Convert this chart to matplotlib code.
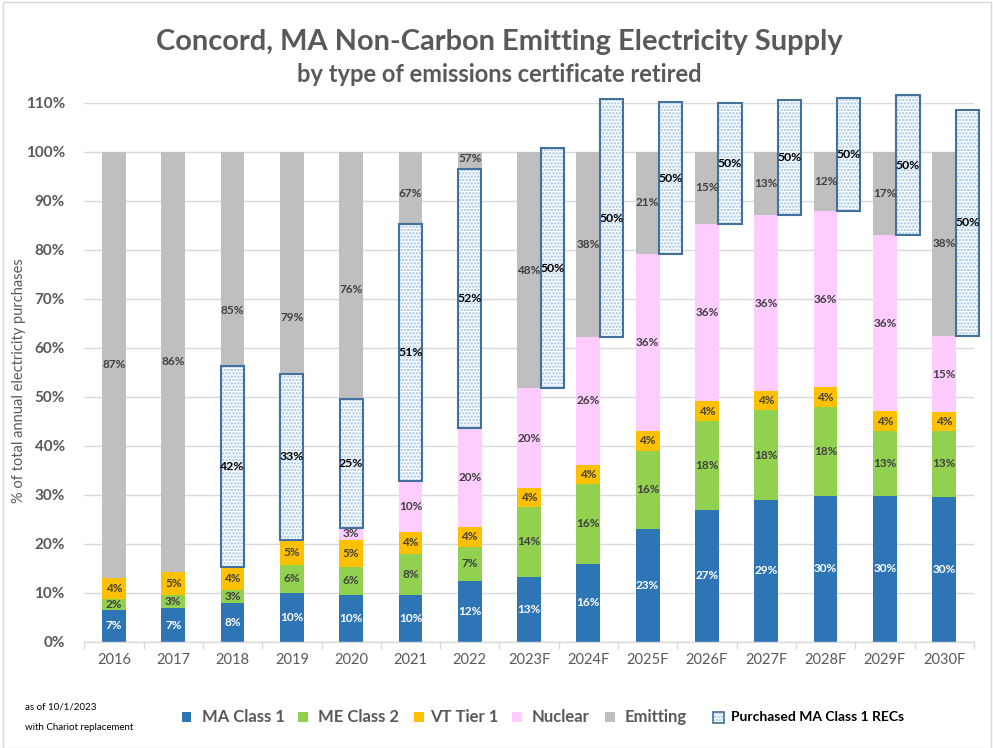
import matplotlib
matplotlib.use("Agg")
import matplotlib.pyplot as plt
import numpy as np
from matplotlib.patches import Rectangle

plt.rcParams['font.family'] = ['Lato', 'DejaVu Sans']
plt.rcParams['hatch.linewidth'] = 1.2

years = ['2016', '2017', '2018', '2019', '2020', '2021', '2022', '2023F',
         '2024F', '2025F', '2026F', '2027F', '2028F', '2029F', '2030F']

ma_class1 = [6.5, 6.8, 7.8, 9.9, 9.5, 9.5, 12.4, 13.3, 15.9, 23.0, 26.9, 28.9, 29.8, 29.8, 29.6]
me_class2 = [2.2, 2.7, 2.7, 5.8, 5.8, 8.5, 7.0, 14.1, 16.3, 16.0, 18.1, 18.3, 18.1, 13.2, 13.4]
vt_tier1 = [4.4, 4.8, 4.7, 5.1, 5.5, 4.4, 4.1, 3.9, 3.9, 4.0, 4.1, 3.9, 4.0, 4.0, 3.8]
nuclear = [0.0, 0.0, 0.0, 0.0, 2.5, 10.3, 20.2, 20.4, 26.1, 36.1, 36.1, 36.0, 36.0, 36.0, 15.6]
emitting = [86.9, 85.7, 84.8, 79.2, 76.7, 67.3, 56.3, 48.3, 37.8, 20.9, 14.8, 12.9, 12.1, 17.0, 37.6]
purchased_recs = [0.0, 0.0, 41.1, 33.8, 26.2, 52.5, 52.8, 49.0, 48.5, 31.0, 24.7, 23.4, 23.0, 28.5, 46.1]

ma_labels = [7, 7, 8, 10, 10, 10, 12, 13, 16, 23, 27, 29, 30, 30, 30]
me_labels = [2, 3, 3, 6, 6, 8, 7, 14, 16, 16, 18, 18, 18, 13, 13]
vt_labels = [4, 5, 4, 5, 5, 4, 4, 4, 4, 4, 4, 4, 4, 4, 4]
nuc_labels = [None, None, None, None, 3, 10, 20, 20, 26, 36, 36, 36, 36, 36, 15]
emit_labels = [87, 86, 85, 79, 76, 67, 57, 48, 38, 21, 15, 13, 12, 17, 38]
rec_labels = [None, None, 42, 33, 25, 51, 52, 50, 50, 50, 50, 50, 50, 50, 50]

# manual label anchor positions for emitting labels where REC box overlays
emit_label_override = {'2018': 67.5, '2019': 66.1, '2020': 71.8, '2021': 91.5, '2022': 98.7}

colors = {
    'MA Class 1': '#2E75B6',
    'ME Class 2': '#92D050',
    'VT Tier 1': '#FFC000',
    'Nuclear': '#FFCCFF',
    'Emitting': '#BFBFBF',
}
text_dark = '#404040'
grey_text = '#595959'

fig = plt.figure(figsize=(9.93, 7.48), dpi=100)
ax = fig.add_axes([84.3 / 993, (748 - 641.7) / 748, (973.8 - 84.3) / 993, (641.7 - 102.7) / 748])

x = np.arange(len(years))
w = 0.4

series = [
    ('MA Class 1', ma_class1, ma_labels, 'white'),
    ('ME Class 2', me_class2, me_labels, text_dark),
    ('VT Tier 1', vt_tier1, vt_labels, text_dark),
    ('Nuclear', nuclear, nuc_labels, text_dark),
    ('Emitting', emitting, emit_labels, text_dark),
]

bottom = np.zeros(len(years))
nonemit_top = None
for name, vals, labs, tcol in series:
    vals = np.array(vals, dtype=float)
    if name == 'Emitting':
        nonemit_top = bottom.copy()
    ax.bar(x, vals, w, bottom=bottom, color=colors[name], linewidth=0, zorder=2, label=name)
    for i, (v, lab) in enumerate(zip(vals, labs)):
        if lab is None or v <= 0:
            continue
        yc = bottom[i] + v / 2
        if name == 'Emitting' and years[i] in emit_label_override:
            yc = emit_label_override[years[i]]
        ax.text(x[i], yc, f'{lab}%', ha='center', va='center', fontsize=8.5,
                fontweight='bold', color=tcol, zorder=6)
    bottom = bottom + vals

# Purchased RECs: stacked on top of non-emitting supply
rec = np.array(purchased_recs)
rec_offset = np.array([0.39 if y.endswith('F') else 0.0 for y in years])
rx = x + rec_offset
mask = rec > 0
b1 = ax.bar(rx[mask], rec[mask], w * 0.98, bottom=nonemit_top[mask], facecolor='white',
            edgecolor='#9DC3E6', hatch='.....', linewidth=0, zorder=3)
b2 = ax.bar(rx[mask], rec[mask], w * 0.98, bottom=nonemit_top[mask], fill=False,
            edgecolor='#41719C', linewidth=1.5, zorder=4)
for p in list(b1) + list(b2):
    p.set_clip_on(False)
for i in np.where(mask)[0]:
    ax.text(rx[i], nonemit_top[i] + rec[i] / 2, f'{rec_labels[i]}%', ha='center', va='center',
            fontsize=8.8, fontweight='bold', color='black', zorder=6)

# axes styling
ax.set_xlim(-0.5, len(years) - 0.5)
ax.set_ylim(0, 110)
ax.set_yticks(np.arange(0, 111, 10))
ax.set_yticklabels([f'{t}%' for t in range(0, 111, 10)], fontsize=11, fontweight='bold', color=grey_text)
ax.set_xticks(x)
ax.set_xticklabels(years, fontsize=10.5, color=grey_text)
ax.set_xticks(np.arange(-0.5, len(years), 1), minor=True)
ax.tick_params(axis='x', which='major', length=0, pad=8)
ax.tick_params(axis='x', which='minor', length=5, color='#D9D9D9', width=1)
ax.tick_params(axis='y', length=0, pad=14)
ax.grid(axis='y', color='#D9D9D9', linewidth=1, zorder=0)
ax.set_axisbelow(True)
for s in ['top', 'right', 'left']:
    ax.spines[s].set_visible(False)
ax.spines['bottom'].set_color('#D9D9D9')
ax.spines['bottom'].set_linewidth(1)

ax.set_ylabel('% of total annual electricity purchases', fontsize=10.5, color=grey_text, labelpad=4)
ax.yaxis.set_label_coords(-0.066, 0.485)

# titles
fig.text(0.503, 1 - 42 / 748, 'Concord, MA Non-Carbon Emitting Electricity Supply', ha='center', va='center',
         fontsize=20.9, fontweight='bold', color=grey_text)
fig.text(0.503, 1 - 75 / 748, 'by type of emissions certificate retired', ha='center', va='center',
         fontsize=17, fontweight='bold', color=grey_text)

# legend (custom layout along the bottom)
leg_y = 1 - 717 / 748
leg_items = [('MA Class 1', 181.5, 201.5), ('ME Class 2', 298, 318), ('VT Tier 1', 414, 430),
             ('Nuclear', 512, 532), ('Emitting', 605, 625)]
for name, sx, tx in leg_items:
    fig.patches.append(Rectangle((sx / 993, leg_y - 5 / 748), 9.5 / 993, 10 / 748, transform=fig.transFigure,
                                 facecolor=colors[name], edgecolor='none'))
    fig.text(tx / 993, leg_y, name, ha='left', va='center', fontsize=12, fontweight='bold', color=grey_text)
fig.patches.append(Rectangle((713 / 993, leg_y - 5.5 / 748), 11 / 993, 11 / 748, transform=fig.transFigure,
                             facecolor='white', edgecolor='#9DC3E6', hatch='.....', linewidth=0))
fig.patches.append(Rectangle((713 / 993, leg_y - 5.5 / 748), 11 / 993, 11 / 748, transform=fig.transFigure,
                             fill=False, edgecolor='#41719C', linewidth=1.2))
fig.text(731 / 993, leg_y, 'Purchased MA Class 1 RECs', ha='left', va='center', fontsize=10,
         fontweight='bold', color='black')

fig.text(25 / 993, 1 - 707 / 748, 'as of 10/1/2023', ha='left', va='center', fontsize=7, color='black')
fig.text(25 / 993, 1 - 727 / 748, 'with Chariot replacement', ha='left', va='center', fontsize=7, color='black')

# chart border
fig.patches.append(Rectangle((2.5 / 993, 0.5 / 748), 988 / 993, 746 / 748, transform=fig.transFigure,
                             fill=False, edgecolor='#D9D9D9', linewidth=1))

fig.savefig('out.png', dpi=100)
